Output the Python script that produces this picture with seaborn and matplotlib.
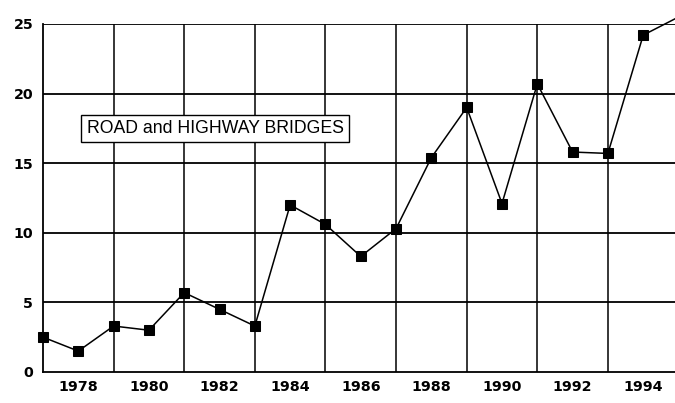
import pandas as pd
import matplotlib.pyplot as plt
import seaborn as sns
import numpy as np

sns.set_style("white")
plt.rcParams["font.family"] = ["Liberation Sans", "DejaVu Sans"]

years = [1977, 1978, 1979, 1980, 1981, 1982, 1983, 1984, 1985, 1986,
         1987, 1988, 1989, 1990, 1991, 1992, 1993, 1994, 1995]
values = [2.5, 1.5, 3.3, 3.0, 5.7, 4.5, 3.3, 12.0, 10.6, 8.3,
          10.3, 15.4, 19.0, 12.1, 20.7, 15.8, 15.7, 24.2, 25.5]
label_years = [1978, 1980, 1982, 1984, 1986, 1988, 1990, 1992, 1994]
grid_years = [1979, 1981, 1983, 1985, 1987, 1989, 1991, 1993]
y_ticks = [0, 5, 10, 15, 20, 25]

df = pd.DataFrame({"year": years, "value": values})

fig = plt.figure(figsize=(6.75, 4.03), dpi=100)
ax = fig.add_axes([0.0637, 0.077, 0.9363, 0.8635])

# grid first so the line sits on top
for y in y_ticks[1:]:
    ax.axhline(y, color="black", lw=1.3, zorder=1)
for x in grid_years:
    ax.axvline(x, color="black", lw=1.1, zorder=1)

# last point lies just past the right edge: line only, no marker
sns.lineplot(data=df, x="year", y="value", ax=ax, color="black", lw=1.1,
             marker="s", markersize=7.5, markeredgecolor="black",
             markerfacecolor="black", zorder=3, clip_on=False,
             markevery=list(range(len(years) - 1)))

tick_font = dict(family="DejaVu Sans", fontweight="bold", fontsize=10.3)
ax.set_xlim(1977, 1994.9)
ax.set_ylim(0, 25)
ax.set_xticks(label_years)
ax.set_xticklabels([str(y) for y in label_years], **tick_font)
ax.set_yticks(y_ticks)
ax.set_yticklabels([str(y) for y in y_ticks], **tick_font)
ax.tick_params(axis="x", direction="in", length=5, width=1, pad=6, colors="black")
ax.tick_params(axis="y", length=0, pad=7, colors="black")
ax.set_xlabel("")
ax.set_ylabel("")

for side in ["top", "right"]:
    ax.spines[side].set_visible(False)
for side in ["left", "bottom"]:
    ax.spines[side].set_color("black")
    ax.spines[side].set_linewidth(1.3)

ax.text(1981.87, 17.5, "ROAD and HIGHWAY BRIDGES", ha="center", va="center",
        fontsize=12.7, color="black", zorder=4,
        bbox=dict(boxstyle="square,pad=0.3", facecolor="white",
                  edgecolor="black", linewidth=1))

fig.savefig("out.png", dpi=100)
